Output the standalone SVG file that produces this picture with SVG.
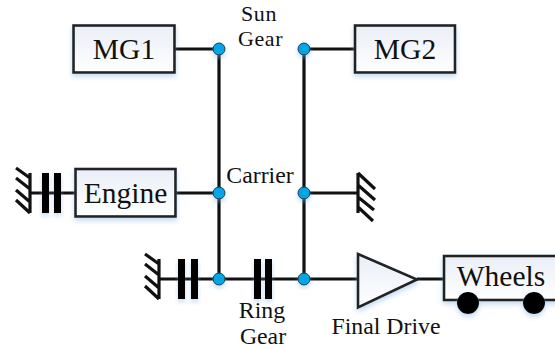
<svg xmlns="http://www.w3.org/2000/svg" width="555" height="349" viewBox="0 0 555 349">
<style>
.l{fill:none;stroke:#111;stroke-width:3.2}
.b{fill:url(#g);stroke:#222;stroke-width:2.6;filter:url(#s)}
.bar{fill:#000;filter:url(#s)}
.n{fill:#00a6e6;stroke:#1a3a4a;stroke-width:1;filter:url(#s)}
.w{fill:#000;filter:url(#s)}
text{font-family:"Liberation Serif","Times New Roman",serif;fill:#111;text-anchor:middle}
.t{font-size:29.5px}
.s{font-size:23.8px}
.c{font-size:22px;letter-spacing:.6px}
</style>
<defs>
<linearGradient id="g" x1="0" y1="0" x2="0" y2="1"><stop offset="0" stop-color="#e9eef7"/><stop offset="1" stop-color="#fff"/></linearGradient>
<filter id="s" x="-30%" y="-30%" width="160%" height="170%"><feDropShadow dx="0" dy="3" stdDeviation="2.5" flood-color="#7fb0e0" flood-opacity=".45"/></filter>
</defs>
<g id="connectors">
<path class="l" d="M175 49H219V279M304 279V49H355M175 193H219M304 193H358M30 193H75M159 279H358M417 279H444"/>
<path class="l" d="M358 173V213M358 173L375 189M358 185L375 200M358 197L374 210M358 207L373 221"/>
<path class="l" d="M30 173V213M16 168L30 178M16 178L30 189M16 190L30 202M16 200L30 213"/>
<path class="l" d="M159 259V299M145 254L159 264M145 264L159 275M145 276L159 288M145 286L159 299"/>
</g>
<g id="mg1"><rect class="b" x="73.500" y="25.500" width="101" height="47"/><text class="t" x="124" y="58.500">MG1</text></g>
<g id="mg2"><rect class="b" x="355" y="25.500" width="100" height="47"/><text class="t" x="405" y="58.500">MG2</text></g>
<g id="engine"><rect class="b" x="75.500" y="169" width="100" height="47.500"/><text class="t" x="125.500" y="202.500">Engine</text></g>
<g id="wheels"><rect class="b" x="444" y="256" width="125" height="44"/><text class="t" x="501" y="286">Wheels</text><circle class="w" cx="468" cy="303" r="11"/><circle class="w" cx="534" cy="303" r="11"/></g>
<g id="final-drive"><path class="b" d="M358 254V307.500L417 279.500Z"/><text class="s" x="386" y="334">Final Drive</text></g>
<g id="clutch-engine"><rect class="bar" x="42" y="173" width="7" height="40"/><rect class="bar" x="54" y="173" width="7" height="40"/></g>
<g id="clutch-left"><rect class="bar" x="178" y="259" width="7" height="40"/><rect class="bar" x="191" y="259" width="7" height="40"/></g>
<g id="clutch-ring"><rect class="bar" x="254" y="259" width="7" height="40"/><rect class="bar" x="265" y="259" width="7" height="40"/></g>
<g id="sun-1"><circle class="n" cx="219" cy="49" r="6"/></g>
<g id="sun-2"><circle class="n" cx="304" cy="49" r="6"/></g>
<g id="carrier-1"><circle class="n" cx="219" cy="193" r="6"/></g>
<g id="carrier-2"><circle class="n" cx="304" cy="193" r="6"/></g>
<g id="ring-1"><circle class="n" cx="219" cy="279" r="6"/></g>
<g id="ring-2"><circle class="n" cx="304" cy="279" r="6"/></g>
<g id="labels">
<text class="c" x="259" y="21">Sun</text>
<text class="c" x="260.500" y="45.500">Gear</text>
<text class="s" x="260" y="183">Carrier</text>
<text class="s"><tspan x="262" y="318">Ring</tspan><tspan x="263" y="344">Gear</tspan></text>
</g>
</svg>
